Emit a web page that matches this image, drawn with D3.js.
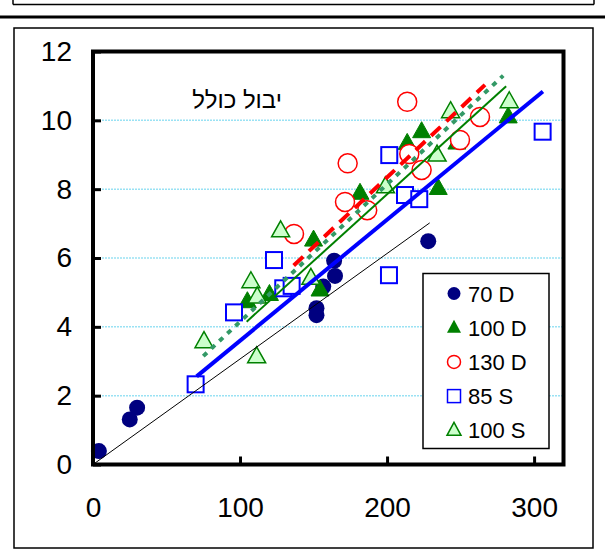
<!DOCTYPE html>
<html>
<head>
<meta charset="utf-8">
<script src="https://cdn.jsdelivr.net/npm/d3@7"></script>
<style>
  body { margin: 0; background: #fff; }
  svg { display: block; font-family: "Liberation Sans", Arial, sans-serif; }
</style>
</head>
<body>
<svg width="605" height="552"></svg>
<script>
// series values [x, y]
var d70 = [[4, 0.39], [25, 1.31], [30, 1.65], [152, 4.34], [152, 4.54], [156.6, 5.17], [164.6, 5.48], [164, 5.92], [228, 6.49]];
var d100 = [[105, 4.73], [120, 4.94], [150, 6.52], [154.4, 5.07], [181.6, 7.88], [213.7, 9.33], [223.5, 9.67], [234.8, 8.02], [247.5, 9.34], [282.4, 10.1]];
var d130 = [[136.7, 6.7], [171.4, 7.63], [173.2, 8.75], [186.5, 7.39], [213.7, 10.54], [215.1, 9.02], [223.5, 8.56], [249.6, 9.43], [263.2, 10.1]];
var s85 = [[69.8, 2.33], [95.9, 4.42], [123.1, 5.94], [129.4, 5.12], [135.1, 5.19], [201.3, 5.5], [201.5, 8.99], [212.2, 7.83], [221.9, 7.71], [305.8, 9.67]];
var s100 = [[75.5, 3.57], [111.3, 3.13], [107.4, 5.31], [111.7, 4.87], [127.6, 6.79], [148.2, 5.41], [198.9, 8.07], [234, 8.99], [243.2, 10.25], [283.1, 10.54]];

// fitted lines (end points)
var lineRef = [[0, 0], [229, 7.02]];
var line85S = [[70.5, 2.56], [306, 10.84]];
var line100D = [[104.5, 4.15], [281, 10.99]];
var line130D = [[136.5, 5.78], [266.6, 11.03]];
var line100S = [[75, 3.15], [279, 11.3]];

var xTicks = [0, 100, 200, 300];
var yTicks = [0, 2, 4, 6, 8, 10, 12];
var gridTicks = [2, 4, 6, 8, 10];
var legendLabels = ["70 D", "100 D", "130 D", "85 S", "100 S"];
var title = "יבול כולל";

var svg = d3.select("svg");

// frames
svg.append("line").attr("x1", 13).attr("x2", 594).attr("y1", 4.5).attr("y2", 4.5)
  .attr("stroke", "#000").attr("stroke-width", 1.5);
svg.append("line").attr("x1", 13).attr("x2", 13).attr("y1", -2).attr("y2", 4.5)
  .attr("stroke", "#000").attr("stroke-width", 1.5);
svg.append("line").attr("x1", 594).attr("x2", 594).attr("y1", -2).attr("y2", 4.5)
  .attr("stroke", "#000").attr("stroke-width", 1.5);
svg.append("line").attr("x1", 0).attr("x2", 605).attr("y1", 17).attr("y2", 17)
  .attr("stroke", "#000").attr("stroke-width", 3);
svg.append("rect").attr("x", 14).attr("y", 28).attr("width", 579).attr("height", 520)
  .attr("fill", "none").attr("stroke", "#000").attr("stroke-width", 1.5);

var margin = { top: 51.5, left: 93, right: 41.5, bottom: 87.5 },
  width = 605 - margin.left - margin.right,
  height = 552 - margin.top - margin.bottom;

var x = d3.scaleLinear().domain([0, 320]).range([0, width]);
var y = d3.scaleLinear().domain([0, 12]).range([height, 0]);

var g = svg.append("g").attr("transform", "translate(" + margin.left + "," + margin.top + ")");

// gridlines
g.selectAll(".grid").data(gridTicks).enter().append("line")
  .attr("x1", 0).attr("x2", width)
  .attr("y1", d => y(d)).attr("y2", d => y(d))
  .attr("stroke", "#9ae2f4").attr("stroke-width", 1.5).attr("stroke-dasharray", "2,1");

// title
g.append("text").attr("x", x(98)).attr("y", y(10.36)).attr("text-anchor", "middle")
  .attr("font-size", "24px").attr("direction", "rtl").text(title);

var tri = "M0,-10L9,6L-9,6Z";

function plotSeries(data, draw) {
  var sel = g.append("g").selectAll("path").data(data).enter();
  draw(sel);
}

plotSeries(d70, s => s.append("circle").attr("cx", d => x(d[0])).attr("cy", d => y(d[1]))
  .attr("r", 8).attr("fill", "#000080"));
plotSeries(d100, s => s.append("path").attr("d", tri)
  .attr("transform", d => "translate(" + x(d[0]) + "," + y(d[1]) + ")")
  .attr("fill", "#008000").attr("stroke", "#008000").attr("stroke-width", 1));
plotSeries(d130, s => s.append("circle").attr("cx", d => x(d[0])).attr("cy", d => y(d[1]))
  .attr("r", 9.5).attr("fill", "#fff").attr("stroke", "#ff0000").attr("stroke-width", 1.5));
plotSeries(s85, s => s.append("rect").attr("x", d => x(d[0]) - 8).attr("y", d => y(d[1]) - 8)
  .attr("width", 16).attr("height", 16).attr("fill", "#fff").attr("stroke", "#0000ff").attr("stroke-width", 2));
plotSeries(s100, s => s.append("path").attr("d", tri)
  .attr("transform", d => "translate(" + x(d[0]) + "," + y(d[1]) + ")")
  .attr("fill", "#ccffcc").attr("stroke", "#008000").attr("stroke-width", 1.5));

// lines
var line = d3.line().x(d => x(d[0])).y(d => y(d[1]));
g.append("path").attr("d", line(lineRef)).attr("fill", "none").attr("stroke", "#000").attr("stroke-width", 1);
g.append("path").attr("d", line(line85S)).attr("fill", "none").attr("stroke", "#0000ff").attr("stroke-width", 4);
g.append("path").attr("d", line(line100D)).attr("fill", "none").attr("stroke", "#008000").attr("stroke-width", 2);
g.append("path").attr("d", line(line130D)).attr("fill", "none").attr("stroke", "#ff0000").attr("stroke-width", 4)
  .attr("stroke-dasharray", "13,8");
g.append("path").attr("d", line(line100S)).attr("fill", "none").attr("stroke", "#339966").attr("stroke-width", 4)
  .attr("stroke-dasharray", "5,6");

// axes
g.append("g").attr("transform", "translate(0," + height + ")")
  .call(d3.axisBottom(x).tickValues(xTicks).tickSize(-8).tickPadding(33))
  .call(a => a.select(".domain").remove())
  .call(a => a.selectAll("line").attr("stroke-width", 3))
  .call(a => a.selectAll("text").attr("font-size", "28px").attr("font-family", "Liberation Sans, Arial, sans-serif"));
g.append("g")
  .call(d3.axisLeft(y).tickValues(yTicks).tickSize(-8).tickPadding(21))
  .call(a => a.select(".domain").remove())
  .call(a => a.selectAll("line").attr("stroke-width", 3))
  .call(a => a.selectAll("text").attr("font-size", "28px").attr("font-family", "Liberation Sans, Arial, sans-serif"));

// plot frame
g.append("rect").attr("width", width).attr("height", height)
  .attr("fill", "none").attr("stroke", "#000").attr("stroke-width", 4);

// legend
var lg = svg.append("g").attr("transform", "translate(423,273.5)");
lg.append("rect").attr("width", 126).attr("height", 175).attr("fill", "#fff")
  .attr("stroke", "#000").attr("stroke-width", 1.5);
var items = lg.selectAll(".item").data(legendLabels).enter().append("g")
  .attr("transform", (d, i) => "translate(31," + (20 + i * 34.2) + ")");
items.append("text").attr("x", 14).attr("y", 8).attr("font-size", "22px").text(d => d);
var sym = [
  s => s.append("circle").attr("r", 6.5).attr("fill", "#000080"),
  s => s.append("path").attr("d", "M0,-8L7,5L-7,5Z").attr("fill", "#008000"),
  s => s.append("circle").attr("r", 6.5).attr("fill", "#fff").attr("stroke", "#ff0000").attr("stroke-width", 1.5),
  s => s.append("rect").attr("x", -6.5).attr("y", -6.5).attr("width", 13).attr("height", 13).attr("fill", "#fff").attr("stroke", "#0000ff").attr("stroke-width", 1.5),
  s => s.append("path").attr("d", "M0,-8L7,5L-7,5Z").attr("fill", "#ccffcc").attr("stroke", "#008000").attr("stroke-width", 1.5)
];
items.each(function (d, i) { sym[i](d3.select(this)); });
</script>
</body>
</html>
